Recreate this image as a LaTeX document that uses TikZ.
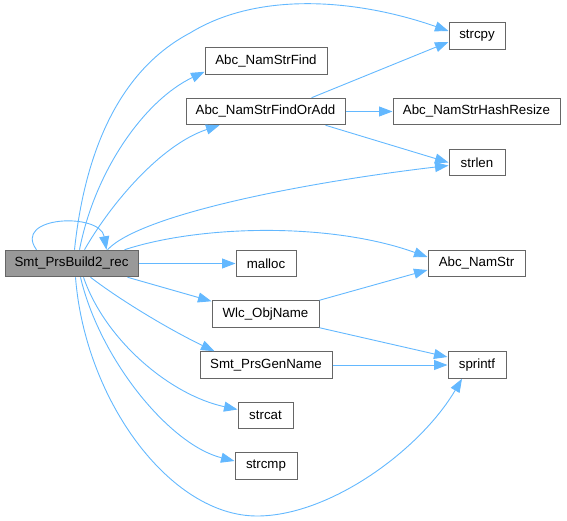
\documentclass[tikz,border=0pt]{standalone}
\usepackage{fontspec}
\setmainfont{Liberation Sans}
\usetikzlibrary{arrows.meta}
\definecolor{edgec}{HTML}{63B8FF}
\definecolor{bordc}{HTML}{666666}
\definecolor{mainc}{HTML}{999999}
\tikzset{
  fn/.style={draw=bordc, line width=1pt, fill=white, minimum height=26.5pt, inner sep=0pt,
    font=\fontsize{13.3}{15}\selectfont, text=black},
  cur/.style={fn, fill=mainc},
  call/.style={draw=edgec, line width=0.9pt, -{Triangle[length=13.5pt,width=10pt]}}
}
\begin{document}
\begin{tikzpicture}[x=1pt,y=-1pt]
\useasboundingbox (0,0) rectangle (567,521);
\node[cur, minimum width=133pt] (rec) at (71.5,263.5) {Smt\_PrsBuild2\_rec};
\node[fn, minimum width=56pt] (strcpy) at (477,36) {strcpy};
\node[fn, minimum width=122pt] (find) at (266,61) {Abc\_NamStrFind};
\node[fn, minimum width=159pt] (fadd) at (265.5,111.5) {Abc\_NamStrFindOrAdd};
\node[fn, minimum width=167pt] (hash) at (476.5,111.5) {Abc\_NamStrHashResize};
\node[fn, minimum width=56pt] (strlen) at (477,162.5) {strlen};
\node[fn, minimum width=60pt] (malloc) at (266,263.5) {malloc};
\node[fn, minimum width=97pt] (namstr) at (476.5,263.5) {Abc\_NamStr};
\node[fn, minimum width=107pt] (wlc) at (265.5,314) {Wlc\_ObjName};
\node[fn, minimum width=132pt] (gen) at (266,365) {Smt\_PrsGenName};
\node[fn, minimum width=58pt] (sprintf) at (477,365) {sprintf};
\node[fn, minimum width=55pt] (strcat) at (265.5,415.5) {strcat};
\node[fn, minimum width=62pt] (strcmp) at (266,466) {strcmp};

% self loop
\draw[call] ([xshift=32pt]rec.north west) .. controls (12,216) and (100,212) .. ([xshift=102pt]rec.north west);
% to strcpy
\draw[call] ([xshift=70pt]rec.north west) .. controls (85,150) and (120,70) .. (190,33)
  .. controls (260,-10) and (360,0) .. ([yshift=5pt]strcpy.west);
% to find
\draw[call] ([xshift=75pt]rec.north west) .. controls (95,170) and (145,100) .. ([yshift=3pt]find.south west);
% to find or add
\draw[call] ([xshift=80pt]rec.north west) .. controls (110,205) and (160,145) .. ([xshift=34pt]fadd.south west);
% to strlen
\draw[call] ([xshift=103pt]rec.north west) .. controls (140,215) and (300,183) .. ([yshift=-3pt]strlen.west);
% to namstr
\draw[call] ([xshift=120pt]rec.north west) .. controls (200,225) and (330,222) .. ([yshift=6.5pt]namstr.west);
% to malloc
\draw[call] (rec.east) -- (malloc.west);
% to wlc
\draw[call] ([xshift=-11pt]rec.south east) -- ([yshift=-1pt]wlc.north west);
% to gen
\draw[call] ([xshift=-48pt]rec.south east) .. controls (120,300) and (170,330) .. ([xshift=15pt]gen.north west);
% to strcat
\draw[call] ([xshift=-55pt]rec.south east) .. controls (105,340) and (170,395) .. ([yshift=6pt]strcat.west);
% to strcmp
\draw[call] ([xshift=-58pt]rec.south east) .. controls (100,360) and (170,445) .. ([yshift=5pt]strcmp.west);
% to sprintf
\draw[call] ([xshift=-63pt]rec.south east) .. controls (85,400) and (170,516) .. (257,516)
  .. controls (330,516) and (420,450) .. ([xshift=-15pt]sprintf.south);
% from find or add
\draw[call] ([xshift=126pt]fadd.north west) -- ([yshift=-6pt]strcpy.west);
\draw[call] (fadd.east) -- (hash.west);
\draw[call] ([xshift=-20pt]fadd.south east) -- (strlen.west);
% from wlc
\draw[call] (wlc.north east) -- ([yshift=-6.5pt]namstr.west);
\draw[call] (wlc.south east) -- ([yshift=8pt]sprintf.west);
% from gen
\draw[call] (gen.east) -- (sprintf.west);
\end{tikzpicture}
\end{document}
